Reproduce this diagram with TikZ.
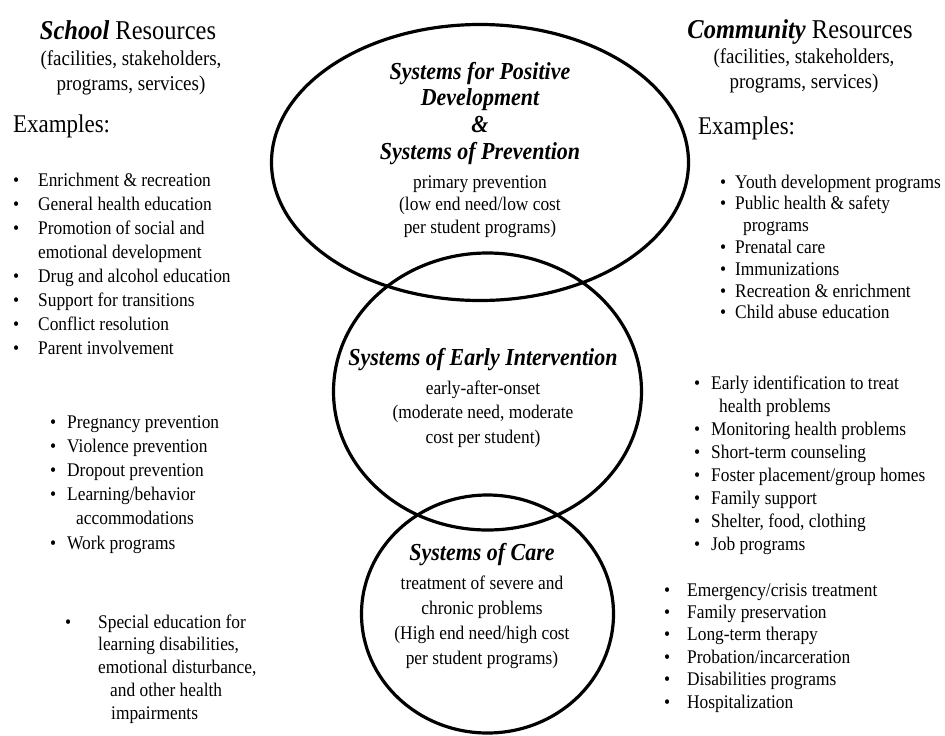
\documentclass[tikz,border=0pt]{standalone}
\usepackage{fontspec}
\setmainfont[FakeStretch=0.9]{Liberation Serif}
\usetikzlibrary{shapes.geometric}

\newcommand{\headfont}{\fontsize{27.2}{25}\selectfont}
\newcommand{\subfont}{\fontsize{21.1}{25}\selectfont}
\newcommand{\exfont}{\fontsize{25.5}{25}\selectfont}
\newcommand{\bodyfont}{\fontsize{19.3}{23.5}\selectfont}
\newcommand{\sysfont}{\fontsize{24.4}{26.7}\selectfont\bfseries\itshape}
\newcommand{\bul}[1]{\makebox[#1pt][l]{\textbullet}}

\tikzset{
  ring/.style={draw, ellipse, line width=3.2pt, inner sep=0pt},
  txt/.style={inner sep=0pt, anchor=base},
  lst/.style={inner sep=0pt, anchor=base west, align=left, font=\bodyfont}
}

\begin{document}
\begin{tikzpicture}[x=1pt,y=-1pt]
\useasboundingbox[fill=white] (0,0) rectangle (945,736);

\node[ring, minimum width=417pt, minimum height=276pt] (prevring) at (480,162.5) {};
\node[ring, minimum width=308pt, minimum height=277pt] (earlyring) at (487.5,391.5) {};
\node[ring, minimum width=252pt, minimum height=238pt] (carering) at (487.5,614) {};

\node[txt, font=\headfont] (schoolhd) at (128,39) {\textbf{\textit{School}} Resources};
\node[txt, font=\subfont, align=center] (schoolsub) at (131,90) {(facilities, stakeholders,\\programs, services)};
\node[txt, font=\exfont, anchor=base west] (schoolex) at (13,132) {Examples:};

\node[txt, font=\headfont] (commhd) at (800,38) {\textbf{\textit{Community}} Resources};
\node[txt, font=\subfont, align=center] (commsub) at (804,88) {(facilities, stakeholders,\\programs, services)};
\node[txt, font=\exfont, anchor=base west] (commex) at (698,134) {Examples:};

\node[lst, font=\fontsize{19.3}{24.1}\selectfont] (schoolprev) at (13,354.7) {%
\bul{25}Enrichment \& recreation\\
\bul{25}General health education\\
\bul{25}Promotion of social and\\
\hspace*{25pt}emotional development\\
\bul{25}Drug and alcohol education\\
\bul{25}Support for transitions\\
\bul{25}Conflict resolution\\
\bul{25}Parent involvement};

\node[lst, font=\fontsize{19.3}{24.2}\selectfont] (schoolearly) at (50,549) {%
\bul{17}Pregnancy prevention\\
\bul{17}Violence prevention\\
\bul{17}Dropout prevention\\
\bul{17}Learning/behavior\\
\hspace*{26pt}accommodations\\
\bul{17}Work programs};

\node[lst, font=\fontsize{19.3}{22.8}\selectfont] (schoolcare) at (65,719.2) {%
\bul{33}Special education for\\
\hspace*{33pt}learning disabilities,\\
\hspace*{33pt}emotional disturbance,\\
\hspace*{45pt}and other health\\
\hspace*{46pt}impairments};

\node[lst, font=\fontsize{19.3}{21.8}\selectfont] (commprev) at (720,318.8) {%
\bul{15}Youth development programs\\
\bul{15}Public health \& safety\\
\hspace*{23pt}programs\\
\bul{15}Prenatal care\\
\bul{15}Immunizations\\
\bul{15}Recreation \& enrichment\\
\bul{15}Child abuse education};

\node[lst, font=\fontsize{19.3}{23}\selectfont] (commearly) at (694,550) {%
\bul{17}Early identification to treat\\
\hspace*{25pt}health problems\\
\bul{17}Monitoring health problems\\
\bul{17}Short-term counseling\\
\bul{17}Foster placement/group homes\\
\bul{17}Family support\\
\bul{17}Shelter, food, clothing\\
\bul{17}Job programs};

\node[lst, font=\fontsize{19.3}{22.4}\selectfont] (commcare) at (664,708) {%
\bul{23}Emergency/crisis treatment\\
\bul{23}Family preservation\\
\bul{23}Long-term therapy\\
\bul{23}Probation/incarceration\\
\bul{23}Disabilities programs\\
\bul{23}Hospitalization};

\node[txt, font=\sysfont, align=center] (prevhd) at (480,159.1) {Systems for Positive\\Development\\\&\\Systems of Prevention};
\node[txt, font=\fontsize{19.3}{22.5}\selectfont, align=center] (prevtx) at (480,233) {primary prevention\\(low end need/low cost\\per student programs)};

\node[txt, font=\sysfont] (earlyhd) at (483,365) {Systems of Early Intervention};
\node[txt, font=\fontsize{19.3}{24.5}\selectfont, align=center] (earlytx) at (483,443) {early-after-onset\\(moderate need, moderate\\cost per student)};

\node[txt, font=\sysfont] (carehd) at (482,560) {Systems of Care};
\node[txt, font=\fontsize{19.3}{25}\selectfont, align=center] (caretx) at (482,664) {treatment of severe and\\chronic problems\\(High end need/high cost\\per student programs)};
\end{tikzpicture}
\end{document}
